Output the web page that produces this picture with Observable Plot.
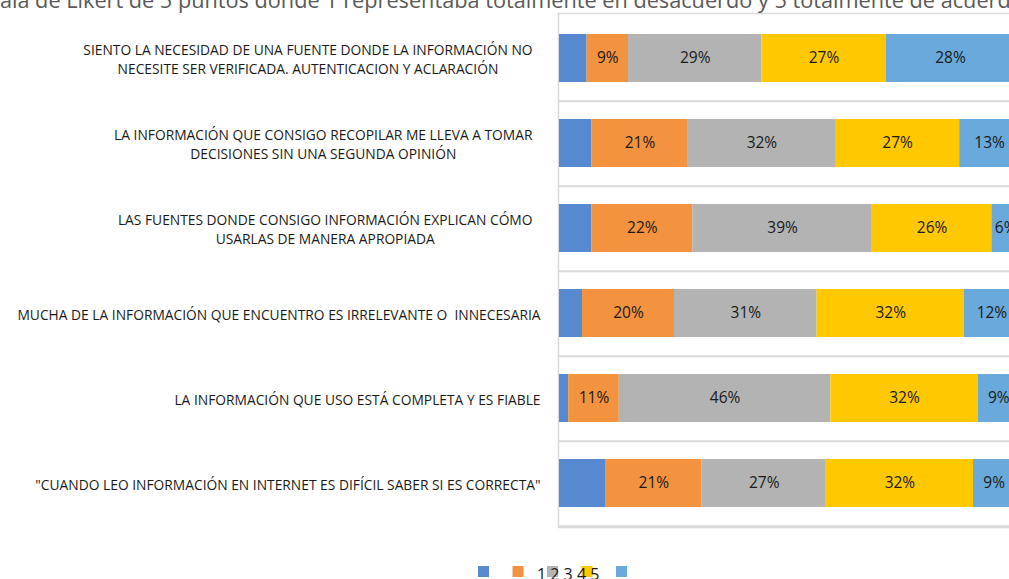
<!DOCTYPE html>
<html><head><meta charset="utf-8">
<script src="https://cdn.jsdelivr.net/npm/d3@7"></script>
<script src="https://cdn.jsdelivr.net/npm/@observablehq/plot@0.6"></script>
<style>
html,body{margin:0;padding:0;overflow:hidden;background:#fff;width:1009px;height:579px}
#wrap{position:relative;width:1009px;height:579px;overflow:hidden}
#title{position:absolute;top:-11px;left:-33px;white-space:nowrap;font-family:'Open Sans',sans-serif;font-size:21.7px;line-height:21.7px;color:#595959}
#chart{position:absolute;top:0;left:0;width:1025px}
#legend{position:absolute;top:560px;left:0}
svg text{white-space:pre}
</style></head>
<body><div id="wrap">
<div id="chart"></div>
<div id="title">escala de Likert de 5 puntos donde 1 representaba totalmente en desacuerdo y 5 totalmente de acuerdo</div>
<div id="legend"></div>
</div>
<script>
const categories = [
  "SIENTO LA NECESIDAD DE UNA FUENTE DONDE LA INFORMACIÓN NO\nNECESITE SER VERIFICADA. AUTENTICACION Y ACLARACIÓN",
  "LA INFORMACIÓN QUE CONSIGO RECOPILAR ME LLEVA A TOMAR\nDECISIONES SIN UNA SEGUNDA OPINIÓN",
  "LAS FUENTES DONDE CONSIGO INFORMACIÓN EXPLICAN CÓMO\nUSARLAS DE MANERA APROPIADA",
  "MUCHA DE LA INFORMACIÓN QUE ENCUENTRO ES IRRELEVANTE O  INNECESARIA",
  "LA INFORMACIÓN QUE USO ESTÁ COMPLETA Y ES FIABLE",
  "\"CUANDO LEO INFORMACIÓN EN INTERNET ES DIFÍCIL SABER SI ES CORRECTA\""
];
const series = ["1", "2", "3", "4", "5"];
const s1 = [6, 7, 7, 5, 2, 10];
const s2 = [9, 21, 22, 20, 11, 21];
const s3 = [29, 32, 39, 31, 46, 27];
const s4 = [27, 27, 26, 32, 32, 32];
const s5 = [28, 13, 6, 12, 9, 9];
const colors = ["#5689cf", "#f39340", "#b3b3b3", "#ffc800", "#6aa9db"];

const seriesValues = [s1, s2, s3, s4, s5];
const data = [];
categories.forEach((c, i) => {
  series.forEach((s, j) => data.push({cat: c, series: s, value: seriesValues[j][i]}));
});

const labelFont = 13.8;
const ctx = document.createElement("canvas").getContext("2d");
ctx.font = labelFont + "px 'Open Sans'";
const labelMarks = categories.map(c => {
  const lines = c.split("\n");
  const w = d3.max(lines, l => ctx.measureText(l).width);
  const gap = lines.length > 1 ? 27 : 19;
  return Plot.text([c], {y: d => d, text: d => d, frameAnchor: "left", textAnchor: "middle",
    dx: -(gap + w / 2), fontSize: labelFont, lineHeight: 1.4, fill: "#1a1a1a"});
});

const chart = Plot.plot({
  width: 1025, height: 545,
  marginLeft: 559, marginRight: 6, marginTop: 13, marginBottom: 18,
  x: {domain: [0, 100], axis: null},
  y: {domain: categories, axis: null, paddingInner: 0.44, paddingOuter: 0.22},
  color: {domain: series, range: colors},
  style: {fontFamily: "'Open Sans', sans-serif", background: "white", maxWidth: "none"},
  marks: [
    Plot.ruleY(categories, {y: d => d, dy: 42.8, stroke: "#d9d9d9", strokeWidth: 2}),
    Plot.frame({stroke: "#d9d9d9", strokeWidth: 1.5, insetLeft: -1}),
    Plot.barX(data, Plot.stackX({x: "value", y: "cat", fill: "series"})),
    Plot.text(data, Plot.stackX({x: "value", y: "cat",
      text: d => d.series === "1" ? "" : d.value + "%", fill: "#1a1a1a", fontSize: 15.5})),
    ...labelMarks
  ]
});
document.getElementById("chart").appendChild(chart);

// legend (as rendered in the source: swatches with the labels squeezed together)
const lg = d3.select("#legend").append("svg").attr("width", 1009).attr("height", 19);
lg.selectAll("rect").data(series).join("rect")
  .attr("x", (d, i) => 478 + i * 34.5).attr("y", 6).attr("width", 11).attr("height", 11)
  .attr("fill", (d, i) => colors[i]);
lg.append("text").attr("x", 537).attr("y", 20)
  .attr("font-family", "'Open Sans', sans-serif").attr("font-size", 16).attr("fill", "#1a1a1a")
  .text(series.join(" "));
</script>
</body></html>
